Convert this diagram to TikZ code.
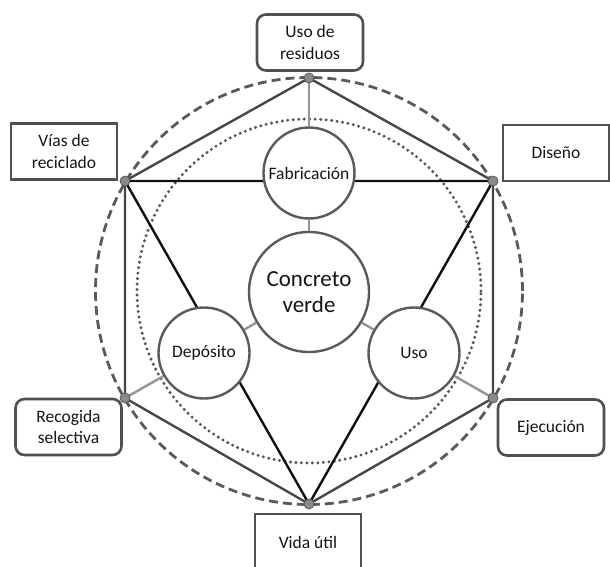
\documentclass[tikz,border=0pt]{standalone}
\usepackage{fontspec}
\setmainfont{Carlito}
\definecolor{txt}{HTML}{151515}
\definecolor{boxc}{HTML}{505050}
\definecolor{circc}{HTML}{5A5A5A}
\definecolor{hexc}{HTML}{474747}
\definecolor{tric}{HTML}{101010}
\definecolor{spokec}{HTML}{959595}
\definecolor{dotfill}{HTML}{8A8A8A}
\definecolor{dotc}{HTML}{555555}
\tikzset{
  lbl/.style={font=\fontsize{17.5}{21.5}\selectfont, text=txt, align=center},
  sqbox/.style={lbl, draw=boxc, line width=2.6pt, fill=white, minimum width=106pt, minimum height=56pt, inner sep=0pt},
  rbox/.style={sqbox, rounded corners=9pt},
  phase/.style={lbl, circle, draw=circc, line width=2.4pt, fill=white, minimum size=91pt, inner sep=0pt},
  core/.style={circle, draw=circc, line width=2.4pt, fill=white, minimum size=120pt, inner sep=0pt, font=\fontsize{23}{25.5}\selectfont, text=txt, align=center},
  hexside/.style={draw=hexc, line width=2.4pt},
  triside/.style={draw=tric, line width=2.4pt},
  spoke/.style={draw=spokec, line width=2.4pt},
  vdot/.style={fill=dotfill, draw=circc, line width=0.8pt},
}
\begin{document}
\begin{tikzpicture}[x=1pt, y=-1pt]
\useasboundingbox (0,0) rectangle (610,567);
\clip (0,0) rectangle (610,567);
\fill[white] (0,0) rectangle (610,567);
% outer circles
\draw[draw=circc, line width=2.8pt, dash pattern=on 9pt off 5pt] (309,291) circle[radius=213.5pt];
\draw[draw=dotc, line width=3.3pt, line cap=round, dash pattern=on 0pt off 5.5pt] (309,291) circle[radius=172pt];
% hexagon vertices
\coordinate (vT) at (309,78);
\coordinate (vUL) at (125,181);
\coordinate (vUR) at (493,181);
\coordinate (vLL) at (125,398);
\coordinate (vLR) at (493,398);
\coordinate (vB) at (309,504);
% hexagon
\draw[hexside] (vT) -- (vUL) -- (vLL) -- (vB) -- (vLR) -- (vUR) -- cycle;
% triangle
\draw[triside, line join=round] (vUL) -- (vUR) -- (vB) -- cycle;
% circle nodes
\node[phase] (fab) at (309,173) {Fabricación};
\node[phase] (dep) at (204,353) {Depósito};
\node[phase] (uso) at (414,353) {Uso};
\node[core] (cv) at (309,292) {Concreto\\verde};
% spokes
\draw[spoke] (vT) -- (fab);
\draw[spoke] (vLL) -- (dep);
\draw[spoke] (vLR) -- (uso);
\draw[spoke] (fab) -- (cv);
\draw[spoke] (dep) -- (cv);
\draw[spoke] (uso) -- (cv);
% boxes
\node[rbox] (res) at (310,42.5) {Uso de\\residuos};
\node[sqbox] (vias) at (64,151.5) {Vías de\\reciclado};
\node[sqbox] (dis) at (556,153) {Diseño};
\node[rbox] (rec) at (68.5,427) {Recogida\\selectiva};
\node[rbox] (eje) at (551,427.5) {Ejecución};
\node[sqbox] (vida) at (308,542) {Vida útil};
% vertex dots
\foreach \v in {vT,vUL,vUR,vLL,vLR,vB}
  \draw[vdot] (\v) circle[radius=5pt];
\end{tikzpicture}
\end{document}
